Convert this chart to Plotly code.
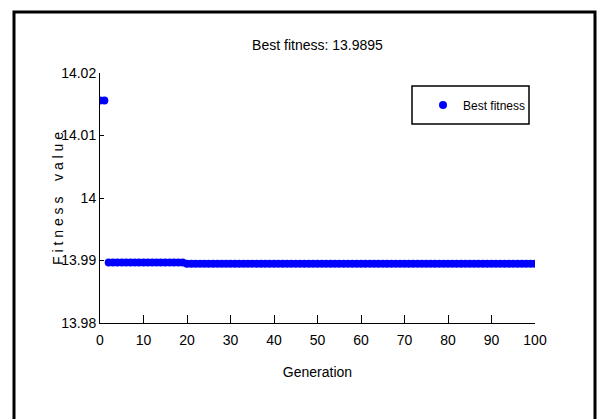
import plotly.graph_objects as go

# Data
gen_high = [0, 1]
fit_high = [14.0156, 14.0156]
gen_mid = list(range(2, 20))
fit_mid = [13.9897] * len(gen_mid)
gen_low = list(range(20, 101))
fit_low = [13.9895] * len(gen_low)

generations = gen_high + gen_mid + gen_low
fitness = fit_high + fit_mid + fit_low

x_ticks = [0, 10, 20, 30, 40, 50, 60, 70, 80, 90, 100]
y_ticks = [13.98, 13.99, 14.0, 14.01, 14.02]
y_tick_labels = ["13.98", "13.99", "14", "14.01", "14.02"]

FONT = "Liberation Sans Narrow, Arial Narrow, Liberation Sans, Arial, sans-serif"
NB = "\u00a0"
ylabel = NB.join(list("Fitness")) + NB * 4 + NB.join(list("value"))

fig = go.Figure()
fig.add_trace(go.Scatter(
    x=generations, y=fitness, mode="markers",
    marker=dict(color="#0000ff", size=8, line=dict(width=0)),
    name="Best fitness",
))

L, R, T, B = 100, 64, 73, 96
W, H = 599, 419
pw = W - L - R
ph = H - T - B

def px_x(px):
    return (px - L) / pw

def px_y(py):
    return (H - B - py) / ph

fig.update_layout(
    width=W, height=H,
    margin=dict(l=L, r=R, t=T, b=B),
    paper_bgcolor="white", plot_bgcolor="white",
    font=dict(family=FONT, color="black", size=14),
    title=dict(text="Best fitness: 13.9895", x=(L + pw / 2) / W, xanchor="center",
               y=1 - 45 / H, yanchor="middle", font=dict(size=14, family=FONT)),
    showlegend=True,
    legend=dict(x=px_x(423), y=px_y(105), xanchor="left", yanchor="middle",
                borderwidth=0, bgcolor="rgba(0,0,0,0)",
                font=dict(size=12, family=FONT), itemwidth=30),
    xaxis=dict(range=[0, 100], tickvals=x_ticks, ticks="inside", ticklen=8,
               tickcolor="black", showline=True, linecolor="black", linewidth=1,
               showgrid=False, zeroline=False, tickfont=dict(size=14),
               ticklabelstandoff=4,
               title=dict(text="Generation", font=dict(size=14), standoff=20)),
    yaxis=dict(range=[13.98, 14.02], tickvals=y_ticks, ticktext=y_tick_labels,
               ticks="inside", ticklen=4, tickcolor="black", showline=True,
               linecolor="black", linewidth=1, showgrid=False, zeroline=False,
               tickfont=dict(size=14)),
    annotations=[dict(text=ylabel, xref="paper", yref="paper",
                      x=px_x(58), y=px_y(199), xanchor="center", yanchor="middle",
                      textangle=-90, showarrow=False, font=dict(size=14, family=FONT))],
    shapes=[
        dict(type="rect", xref="paper", yref="paper",
             x0=px_x(14), x1=px_x(595), y0=px_y(440), y1=px_y(12),
             line=dict(color="black", width=3), fillcolor="rgba(0,0,0,0)",
             layer="below"),
        dict(type="rect", xref="paper", yref="paper",
             x0=px_x(412), x1=px_x(529), y0=px_y(124), y1=px_y(86),
             line=dict(color="black", width=1.5), fillcolor="white",
             layer="below"),
    ],
)

fig.write_html("out.html")
